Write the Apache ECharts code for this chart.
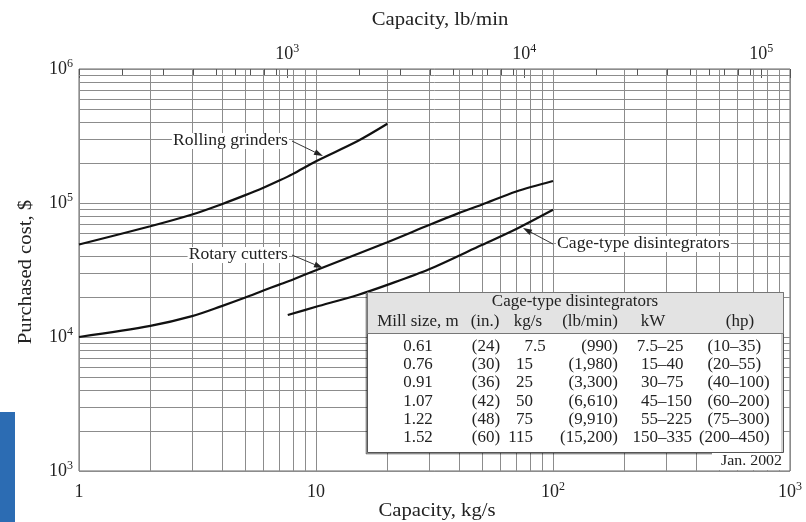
<!DOCTYPE html>
<html>
<head>
<meta charset="utf-8">
<script src="https://cdn.jsdelivr.net/npm/echarts@6/dist/echarts.min.js"></script>
<style>
html, body { margin: 0; background: #fff; }
#chart { width: 806px; height: 522px; }
</style>
</head>
<body>
<div id="chart"></div>
<script>
// capacity in kg/s, purchased cost in $ (Jan. 2002)
const rollingX = [1, 2, 3, 4, 5, 6, 7, 8, 10, 15, 20];
const rollingY = [49000, 67000, 82000, 98000, 114000, 130000, 147000, 165000, 205000, 290000, 390000];
const rotaryX = [1, 2, 3, 4, 5, 6, 7, 8, 10, 20, 30, 40, 50, 70, 100];
const rotaryY = [10000, 12100, 14300, 17000, 19600, 22200, 24600, 26900, 31500, 51000, 68500, 84000, 97000, 122000, 146000];
const cageX = [7.6, 10, 15, 20, 30, 50, 70, 100];
const cageY = [14600, 16800, 20600, 24500, 32000, 48500, 64000, 89000];

// minor grid lines and top axis ticks
const xMinor = [2, 3, 4, 5, 6, 7, 8, 9, 20, 30, 40, 50, 60, 70, 80, 90, 200, 300, 400, 500, 600, 700, 800, 900];
const yMinor = [2000, 3000, 4000, 5000, 6000, 7000, 8000, 9000,
  20000, 30000, 40000, 50000, 60000, 70000, 80000, 90000,
  200000, 300000, 400000, 500000, 600000, 700000, 800000, 900000];
const topMinor = [200, 300, 400, 500, 600, 700, 800, 900, 2000, 3000, 4000, 5000, 6000, 7000, 8000, 9000,
  20000, 30000, 40000, 50000, 60000, 70000, 80000, 90000];
const LB_MIN_PER_KG_S = 132.277;

// table
const tableTitle = 'Cage-type disintegrators';
const tableHeads = ['Mill size, m', '(in.)', 'kg/s', '(lb/min)', 'kW', '(hp)'];
const millSize = ['0.61', '0.76', '0.91', '1.07', '1.22', '1.52'];
const millIn = ['(24)', '(30)', '(36)', '(42)', '(48)', '(60)'];
const capKg = ['7.5', '15', '25', '50', '75', '115'];
const capLb = ['(990)', '(1,980)', '(3,300)', '(6,610)', '(9,910)', '(15,200)'];
const powerKw = ['7.5–25', '15–40', '30–75', '45–150', '55–225', '150–335'];
const powerHp = ['(10–35)', '(20–55)', '(40–100)', '(60–200)', '(75–300)', '(200–450)'];

// curve labels: leader start and arrow tip in data units
const notes = [
  { text: 'Rolling grinders', side: 'right', from: [7.92, 290000], tip: [10.7, 224000] },
  { text: 'Rotary cutters', side: 'right', from: [7.92, 40900], tip: [10.7, 32700] },
  { text: 'Cage-type disintegrators', side: 'left', from: [100, 49400], tip: [74.7, 65000] }
];

const FONT = '"Liberation Serif", "Times New Roman", serif';
const INK = '#222';
const GRID = '#8c8c8c';

const chart = echarts.init(document.getElementById('chart'));

function isPow10(v) {
  const l = Math.log10(v);
  return Math.abs(l - Math.round(l)) < 1e-6;
}
function powLabel(v) {
  if (!isPow10(v)) return '';
  const e = Math.round(Math.log10(v));
  if (e === 0) return '{b|1}';
  if (e === 1) return '{b|10}';
  return '{b|10}{s|' + e + '}';
}
const labelRich = {
  b: { fontFamily: FONT, fontSize: 18, color: INK, lineHeight: 22 },
  s: { fontFamily: FONT, fontSize: 12, color: INK, lineHeight: 12, verticalAlign: 'top' }
};

function vLine(params, api) {
  const a = api.coord([api.value(0), 1000]);
  const b = api.coord([api.value(0), 1e6]);
  const x = Math.round(a[0]) + 0.5;
  return { type: 'line', shape: { x1: x, y1: a[1], x2: x, y2: b[1] }, style: { stroke: GRID, lineWidth: 1 } };
}
function hLine(params, api) {
  const a = api.coord([1, api.value(1)]);
  const b = api.coord([1000, api.value(1)]);
  const y = Math.round(a[1]) + 0.5;
  return { type: 'line', shape: { x1: a[0], y1: y, x2: b[0], y2: y }, style: { stroke: GRID, lineWidth: 1 } };
}
function topTick(params, api) {
  const a = api.coord([api.value(0), api.value(1)]);
  const x = Math.round(a[0]) + 0.5;
  return { type: 'line', shape: { x1: x, y1: a[1], x2: x, y2: a[1] + 6 }, style: { stroke: '#555', lineWidth: 1 } };
}

function pairs(xs, ys) {
  return xs.map((x, i) => [x, ys[i]]);
}

const curveStyle = { color: '#111', width: 2.2 };

const option = {
  animation: false,
  grid: { left: 79, top: 69, right: 16, bottom: 51, show: true, borderColor: '#666', borderWidth: 1 },
  xAxis: [
    {
      type: 'log', min: 1, max: 1000, position: 'bottom',
      axisLine: { show: false }, axisTick: { show: false },
      axisLabel: { formatter: powLabel, rich: labelRich, margin: 10 },
      splitLine: { show: true, lineStyle: { color: GRID, width: 1 } }
    },
    {
      type: 'log', min: LB_MIN_PER_KG_S, max: 1000 * LB_MIN_PER_KG_S, position: 'top',
      axisLine: { show: false },
      axisTick: { show: true, inside: true, length: 9, lineStyle: { color: '#555' } },
      axisLabel: { formatter: powLabel, rich: labelRich, margin: 4 },
      splitLine: { show: false }
    }
  ],
  yAxis: {
    type: 'log', min: 1000, max: 1e6,
    axisLine: { show: false }, axisTick: { show: false },
    axisLabel: { formatter: powLabel, rich: labelRich, margin: 6 },
    splitLine: { show: true, lineStyle: { color: GRID, width: 1 } }
  },
  series: [
    { type: 'custom', silent: true, z: 1, renderItem: vLine, data: xMinor.map(v => [v, 1000]) },
    { type: 'custom', silent: true, z: 1, renderItem: hLine, data: yMinor.map(v => [1, v]) },
    { type: 'custom', silent: true, z: 1, xAxisIndex: 1, renderItem: topTick, data: topMinor.map(v => [v, 1e6]) },
    { name: 'Rolling grinders', type: 'line', z: 3, smooth: 0.3, showSymbol: false, lineStyle: curveStyle, data: pairs(rollingX, rollingY) },
    { name: 'Rotary cutters', type: 'line', z: 3, smooth: 0.3, showSymbol: false, lineStyle: curveStyle, data: pairs(rotaryX, rotaryY) },
    { name: 'Cage-type disintegrators', type: 'line', z: 3, smooth: 0.3, showSymbol: false, lineStyle: curveStyle, data: pairs(cageX, cageY) }
  ]
};
chart.setOption(option);

function txt(s, x, y, align, size, sx, extra) {
  const style = {
    text: s, fontFamily: FONT, fontSize: size, fill: INK,
    align: align, textAlign: align, verticalAlign: 'middle', textVerticalAlign: 'middle'
  };
  Object.assign(style, extra || {});
  return { type: 'text', x: x, y: y, scaleX: sx, z: 101, style: style };
}

const g = [];

// axis titles
g.push(txt('Capacity, lb/min', 440, 20, 'center', 18, 1.15));
g.push(txt('Capacity, kg/s', 437, 511, 'center', 18, 1.15));
const yTitle = txt('Purchased cost, $', 26, 272, 'center', 18, 1.15);
yTitle.rotation = Math.PI / 2;
g.push(yTitle);

// curve labels with arrows
notes.forEach(n => {
  const a = chart.convertToPixel({ seriesIndex: 3 }, n.from);
  const b = chart.convertToPixel({ seriesIndex: 3 }, n.tip);
  const tx = n.side === 'right' ? a[0] - 3 : a[0] + 3;
  g.push(txt(n.text, tx, a[1], n.side === 'right' ? 'right' : 'left', 16, 1.1,
    { backgroundColor: '#fff', padding: [0, 1, 0, 1] }));
  const dx = b[0] - a[0], dy = b[1] - a[1];
  const len = Math.sqrt(dx * dx + dy * dy);
  const ux = dx / len, uy = dy / len;
  const bx = b[0] - ux * 9, by = b[1] - uy * 9;
  g.push({ type: 'line', z: 101, shape: { x1: a[0], y1: a[1], x2: bx, y2: by }, style: { stroke: '#333', lineWidth: 1 } });
  g.push({
    type: 'polygon', z: 101,
    shape: { points: [[b[0], b[1]], [bx - uy * 3, by + ux * 3], [bx + uy * 3, by - ux * 3]] },
    style: { fill: '#222' }
  });
});

// table of cage-type disintegrators
const tX = 367, tY = 292, tW = 416, tH = 160, headH = 41;
g.push({ type: 'rect', z: 100, shape: { x: tX + 0.5, y: tY + 0.5, width: tW, height: tH }, style: { fill: '#fff', stroke: '#555', lineWidth: 1, shadowColor: 'rgba(0,0,0,0.35)', shadowOffsetX: -1.5, shadowOffsetY: 1.5 } });
g.push({ type: 'rect', z: 100, shape: { x: tX + 0.5, y: tY + 0.5, width: tW, height: headH }, style: { fill: '#e3e3e3', stroke: '#777', lineWidth: 1 } });
g.push(txt(tableTitle, 575, 302, 'center', 16, 1.06));
const headX = [418, 485, 528, 590, 653, 740];
tableHeads.forEach((h, i) => g.push(txt(h, headX[i], 322, 'center', 16, 1.06)));

const rowY = [347, 365, 383, 402, 420, 438];
function splitAt(s, ch) {
  const k = s.indexOf(ch);
  return k < 0 ? [s, ''] : [s.slice(0, k), s.slice(k)];
}
rowY.forEach((y, r) => {
  g.push(txt(millSize[r], 418, y, 'center', 16, 1.06));
  g.push(txt(millIn[r], 486, y, 'center', 16, 1.06));
  const kg = splitAt(capKg[r], '.');
  g.push(txt(kg[0], 533, y, 'right', 16, 1.06));
  if (kg[1]) g.push(txt(kg[1], 533, y, 'left', 16, 1.06));
  g.push(txt(capLb[r], 618, y, 'right', 16, 1.06));
  const kw = splitAt(powerKw[r], '–');
  g.push(txt(kw[0], 658, y, 'right', 16, 1.06));
  g.push(txt(kw[1], 658, y, 'left', 16, 1.06));
  const hp = splitAt(powerHp[r], '–');
  g.push(txt(hp[0], 730, y, 'right', 16, 1.06));
  g.push(txt(hp[1], 730, y, 'left', 16, 1.06));
});

// date stamp
g.push({ type: 'rect', z: 100, shape: { x: 712, y: 453, width: 72, height: 17 }, style: { fill: '#fff' } });
g.push(txt('Jan. 2002', 782, 461, 'right', 15, 1.06));

// blue edge mark
g.push({ type: 'rect', z: 100, shape: { x: 0, y: 412, width: 15, height: 110 }, style: { fill: '#2c6cb3' } });

chart.setOption({ graphic: g });
</script>
</body>
</html>
